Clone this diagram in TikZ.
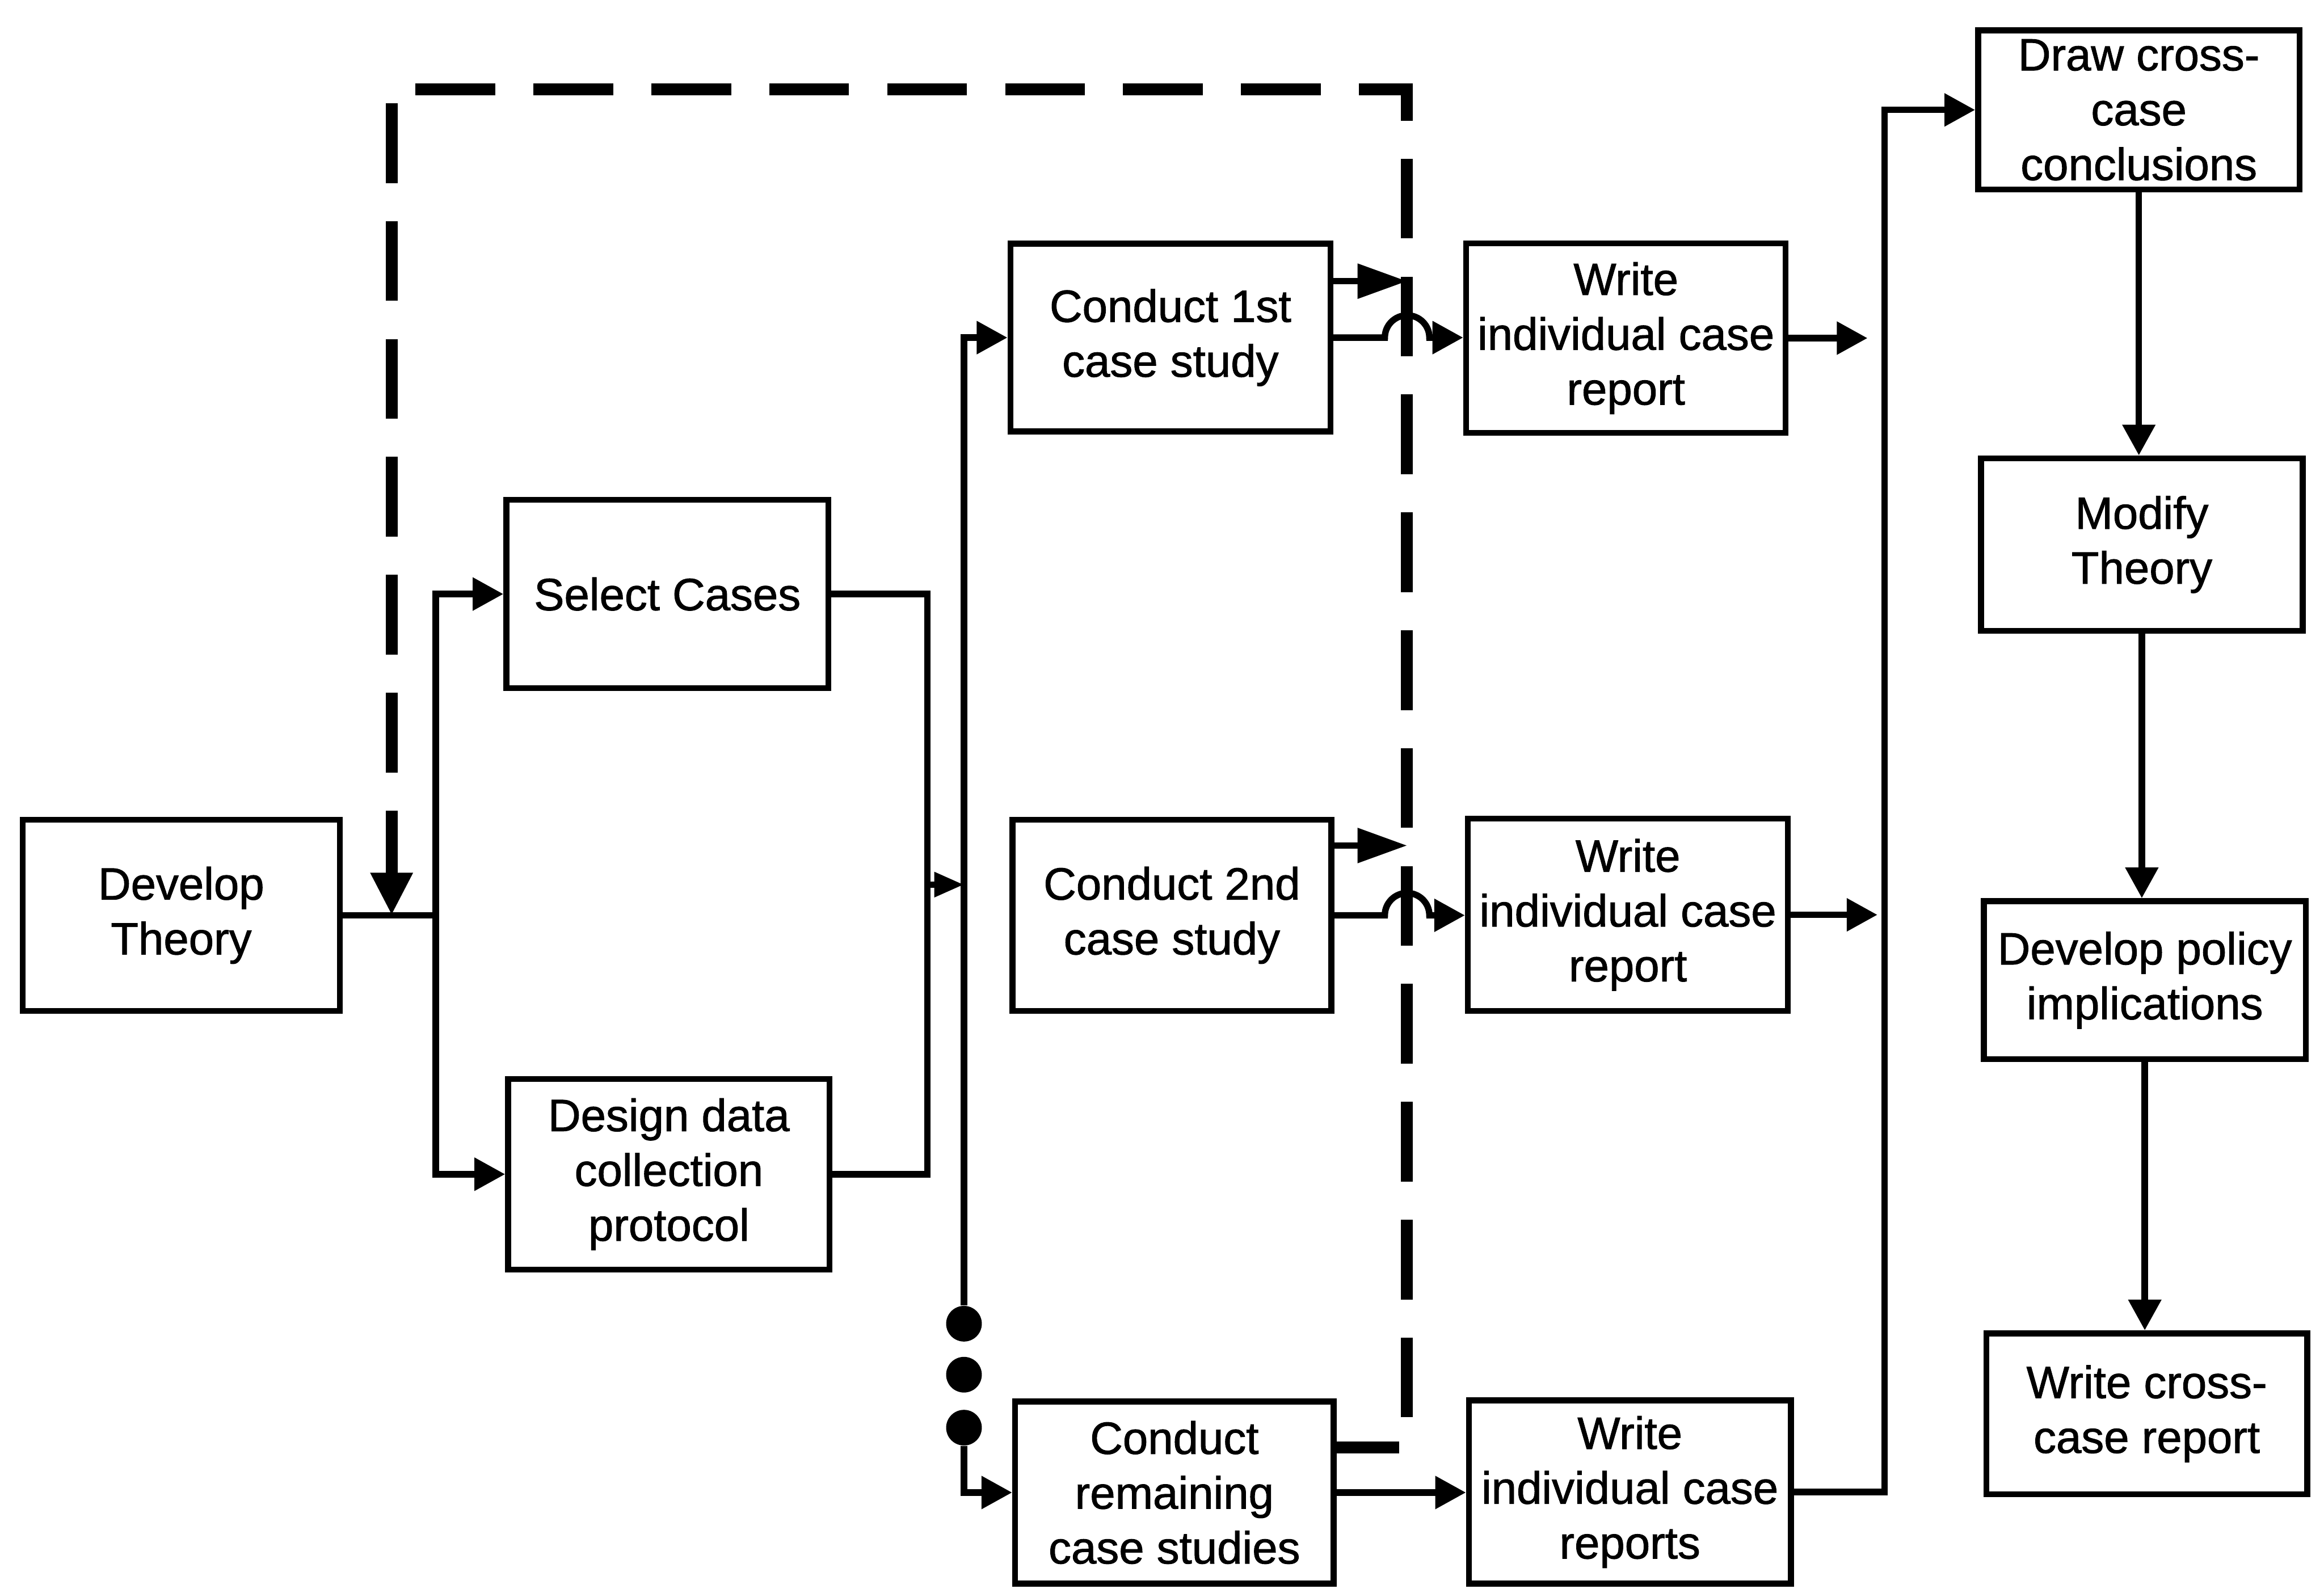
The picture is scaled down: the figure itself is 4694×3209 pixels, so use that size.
\documentclass[tikz,border=0pt]{standalone}
\usepackage{fontspec}
\setmainfont{Liberation Sans}[FakeBold=1.2]
\usetikzlibrary{arrows.meta,calc}
\begin{document}
\begin{tikzpicture}[x=0.01cm,y=-0.01cm,
  box/.style={draw, line width=0.12cm, inner sep=0pt, align=center,
              font=\fontsize{26}{31.5}\selectfont},
  conn/.style={line width=0.13cm},
  arr/.style={conn, -{Triangle[length=0.62cm,width=0.64cm]}},
  longarr/.style={conn, -{Triangle[length=1.0cm,width=0.68cm]}},
  fb/.style={line width=0.24cm, dash pattern=on 1.61cm off 0.77cm, dash phase=0.35cm},
  dot/.style={circle, fill, inner sep=0pt, minimum size=0.72cm},
]
\useasboundingbox (0,0) rectangle (4694,3209);

% process boxes
\node[box, minimum width=6.40cm, minimum height=3.86cm] (dev) at (366,1849) {Develop\\Theory};
\node[box, minimum width=6.50cm, minimum height=3.80cm] (sel) at (1348,1200) {Select Cases};
\node[box, minimum width=6.49cm, minimum height=3.85cm] (des) at (1351,2372) {Design data\\collection\\protocol};
\node[box, minimum width=6.46cm, minimum height=3.79cm] (c1) at (2364,682) {Conduct 1st\\case study};
\node[box, minimum width=6.44cm, minimum height=3.86cm] (c2) at (2367,1849) {Conduct 2nd\\case study};
\node[box, minimum width=6.43cm, minimum height=3.68cm] (c3) at (2372,3015) {Conduct\\remaining\\case studies};
\node[box, minimum width=6.45cm, minimum height=3.83cm] (w1) at (3284,683) {Write\\individual case\\report};
\node[box, minimum width=6.46cm, minimum height=3.88cm] (w2) at (3288,1848) {Write\\individual case\\report};
\node[box, minimum width=6.50cm, minimum height=3.70cm] (w3) at (3292,3014) {Write\\individual case\\reports};
\node[box, minimum width=6.49cm, minimum height=3.21cm] (draw) at (4320,222) {Draw cross-\\case\\conclusions};
\node[box, minimum width=6.49cm, minimum height=3.48cm] (mod) at (4326,1100) {Modify\\Theory};
\node[box, minimum width=6.50cm, minimum height=3.19cm] (pol) at (4332,1980) {Develop policy\\implications};
\node[box, minimum width=6.48cm, minimum height=3.25cm] (wcc) at (4336,2856) {Write cross-\\case report};

% helper points
\coordinate (j1) at (880,1849);
\coordinate (mx) at (1873,1787);
\coordinate (bus) at (1947,1787);
\coordinate (hx) at (2797,0);
\coordinate (fb1) at (2842,568);
\coordinate (fb2) at (2842,1708);
\coordinate (tr) at (2842,180);
\coordinate (dl) at (791,1849);
\coordinate (fbs) at ([yshift=0.91cm]c3.east);
\coordinate (w1o) at (3772,683);
\coordinate (w2o) at (3792,1848);
\coordinate (rb) at (3806,1500);

% theory to case selection and protocol design
\draw[conn] (dev.east) -- (j1);
\draw[arr] (j1) |- (sel.west);
\draw[arr] (j1) |- (des.west);
\draw[conn] (sel.east) -| (mx) |- (des.east);
\draw[conn, -{Triangle[length=0.6cm,width=0.48cm]}] (mx) -- (bus);

% distribution bus to the case studies
\node[dot] (d1) at (1947,2674) {};
\node[dot] (d2) at (1947,2777) {};
\node[dot] (d3) at (1947,2884) {};
\draw[arr] (d1.north) |- (c1.west);
\draw[arr] (d3.south) |- (c3.west);

% case studies to individual reports
\draw[longarr] (c1.east |- fb1) -- (fb1);
\draw[arr] (c1.east) -- (c1.east -| hx) arc[start angle=180,end angle=0,radius=0.45cm] -- (w1.west |- c1.east);
\draw[longarr] (c2.east |- fb2) -- (fb2);
\draw[arr] (c2.east) -- (c2.east -| hx) arc[start angle=180,end angle=0,radius=0.45cm] -- (w2.west |- c2.east);
\draw[arr] (c3.east) -- (w3.west |- c3.east);

% feedback loop
\draw[fb, -{Triangle[length=0.86cm,width=0.8cm]}] (fbs) -| (tr) -| (dl);

% reports to cross-case analysis
\draw[arr] (w1.east) -- (w1o);
\draw[arr] (w2.east) -- (w2o);
\draw[arr] (w3.east) -| (rb) |- (draw.west);
\draw[arr] (draw.south) -- (draw.south |- mod.north);
\draw[arr] (mod.south) -- (mod.south |- pol.north);
\draw[arr] (pol.south) -- (pol.south |- wcc.north);
\end{tikzpicture}
\end{document}
